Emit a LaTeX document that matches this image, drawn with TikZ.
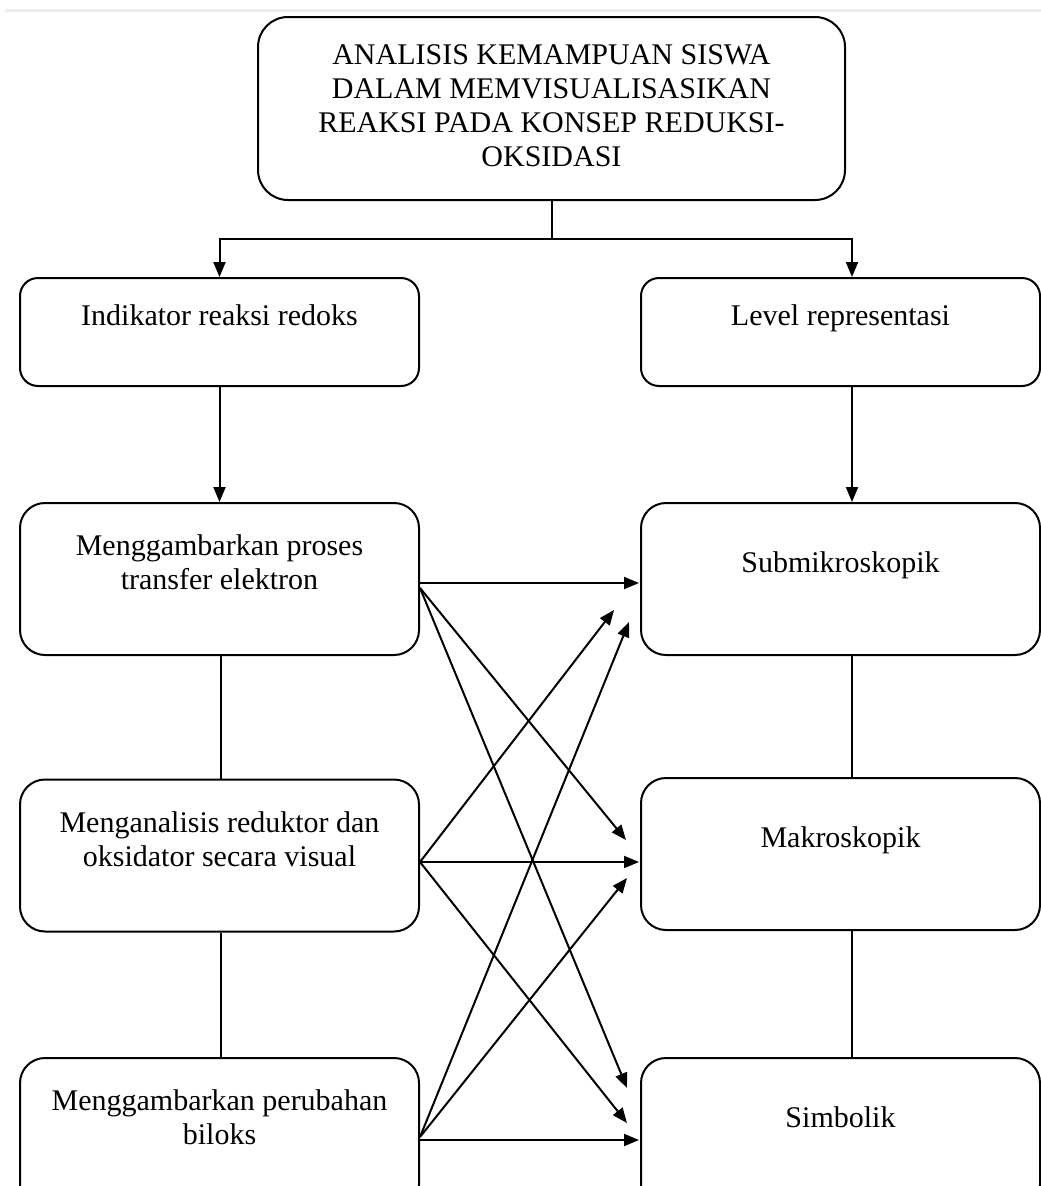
\documentclass[tikz,border=0pt]{standalone}
\usepackage{fontspec}
\setmainfont{Liberation Serif}
\usetikzlibrary{positioning,arrows.meta,calc}

\begin{document}
\begin{tikzpicture}[x=1pt, y=-1pt, >={Triangle[length=15pt,width=12pt]}, line width=2pt,
    kotak/.style={draw, line width=2pt, align=center, inner sep=0pt,
        font=\fontsize{30}{34}\selectfont},
    judul/.style={kotak, rounded corners=30pt, minimum width=587pt, minimum height=183pt, text depth=6pt},
    induk/.style={kotak, rounded corners=18pt, minimum width=399pt, minimum height=108pt, text depth=33pt},
    anak/.style={kotak, rounded corners=25pt, minimum width=399pt, minimum height=152pt, text depth=33pt}]

\useasboundingbox (0,0) rectangle (1041,1186);
\clip (0,0) rectangle (1041,1186);

\draw[gray!15, line width=3pt] (5,10) -- (1041,10);

% top
\node[judul] (top) at (551.5,108.5) {ANALISIS KEMAMPUAN SISWA\\DALAM MEMVISUALISASIKAN\\REAKSI PADA KONSEP REDUKSI-\\OKSIDASI};

% two branches
\node[induk] (indikator) at (219.5,332) {Indikator reaksi redoks};
\node[induk] (level) at (840.5,332) {Level representasi};

% left column
\node[anak] (proses) at (219.5,579) {Menggambarkan proses\\transfer elektron};
\node[anak] (menganalisis) at (219.5,855.5) {Menganalisis reduktor dan\\oksidator secara visual};
\node[anak] (biloks) at (219.5,1134) {Menggambarkan perubahan\\biloks};

% right column
\node[anak] (submikro) at (840.5,579) {Submikroskopik};
\node[anak] (makro) at (840.5,854) {Makroskopik};
\node[anak] (simbolik) at (840.5,1134) {Simbolik};

\draw[->] (top.south) -- ++(0,38) coordinate (split) -| (indikator.north);
\draw[->] (split) -| ($(level.north)+(11.5,0)$);

\draw[->] (indikator.south) -- (proses.north);
\draw[->] ($(level.south)+(11.5,0)$) -- ($(submikro.north)+(11.5,0)$);

\draw ($(proses.south)+(1.5,0)$) -- ($(menganalisis.north)+(1.5,0)$);
\draw ($(menganalisis.south)+(1.5,0)$) -- ($(biloks.north)+(1.5,0)$);
\draw ($(submikro.south)+(11.5,0)$) -- ($(makro.north)+(11.5,0)$);
\draw ($(makro.south)+(11.5,0)$) -- ($(simbolik.north)+(11.5,0)$);

% crossing links
\draw[->] ($(proses.east)+(0,4)$) -- ($(submikro.west)+(-1,4)$);
\draw[->] ($(proses.east)+(0,9)$) -- ($(makro.west)+(-14,-14)$);
\draw[->] ($(proses.east)+(0,9)$) -- ($(simbolik.west)+(-13,-46)$);
\draw[->] ($(menganalisis.east)+(0,6.5)$) -- ($(submikro.west)+(-26,31)$);
\draw[->] ($(menganalisis.east)+(0,6.5)$) -- ($(makro.west)+(-1,8)$);
\draw[->] ($(menganalisis.east)+(0,6.5)$) -- ($(simbolik.west)+(-13,-11)$);
\draw[->] ($(biloks.east)+(0,3)$) -- ($(submikro.west)+(-11,43)$);
\draw[->] ($(biloks.east)+(0,3)$) -- ($(makro.west)+(-13,24)$);
\draw[->] ($(biloks.east)+(0,6)$) -- ($(simbolik.west)+(-1,6)$);

\end{tikzpicture}
\end{document}
